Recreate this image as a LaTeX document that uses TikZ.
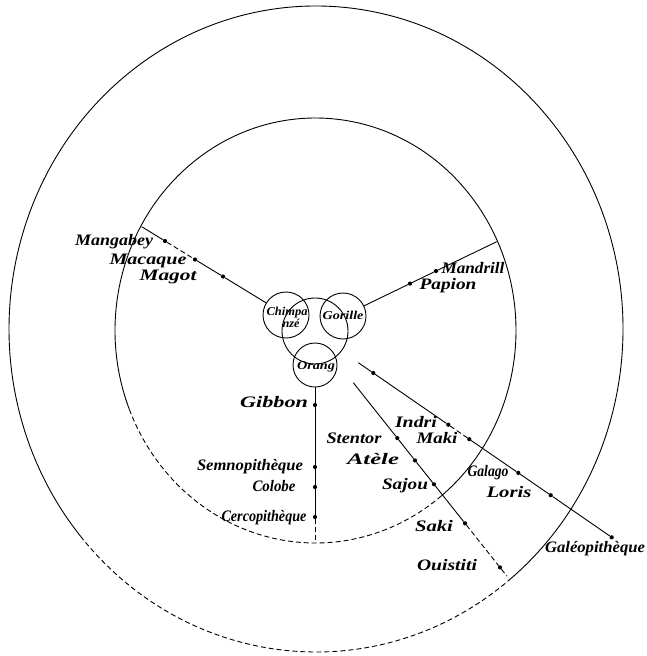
\documentclass[tikz,border=0pt]{standalone}
\usepackage{graphicx}
\usepackage{fontspec}
\setmainfont{Liberation Serif}
\usetikzlibrary{calc}
\tikzset{
  ln/.style={line width=0.9pt, black},
  dsh/.style={line width=0.9pt, black, dash pattern=on 5pt off 3pt},
  dotn/.style={circle, fill=black, inner sep=0pt, minimum size=4.2pt},
  ring/.style={circle, draw, line width=0.9pt, inner sep=0pt, minimum size=#1},
  lbl/.style={inner sep=0pt, font=\fontsize{16}{16}\selectfont\bfseries\itshape},
  clbl/.style={inner sep=0pt, font=\fontsize{12}{10}\selectfont\bfseries\itshape, align=center}
}
\newcommand{\fitw}[2]{\resizebox{#1pt}{\height}{#2}}
\begin{document}
\begin{tikzpicture}[x=1pt,y=-1pt]
\useasboundingbox (0,0) rectangle (646,656);
% centres of the two great circles
\coordinate (O) at (315.5,330.5);
\coordinate (P) at (316,329);
% inner circle
\draw[ln] (O) ++(308.9:200.5pt and 212.5pt) arc[start angle=308.9, end angle=561.8, x radius=200.5pt, y radius=212.5pt];
\draw[dsh] (O) ++(201.8:200.5pt and 212.5pt) arc[start angle=201.8, end angle=308.9, x radius=200.5pt, y radius=212.5pt];
% outer circle
\draw[ln] (P) ++(309:307pt and 323pt) arc[start angle=309, end angle=579.9, x radius=307pt, y radius=323pt];
\draw[dsh] (P) ++(219.9:307pt and 323pt) arc[start angle=219.9, end angle=309, x radius=307pt, y radius=323pt];

% central circles
\node[ring=66pt] (hom) at (315,331) {};
\node[ring=46pt] (chimp) at (286,315) {};
\node[ring=46pt] (gor) at (343,316) {};
\node[ring=44pt] (orang) at (315,365) {};
\node[clbl] (chimpt) at (287,317) {\fitw{41}{Chimpa}\\\hspace*{8pt}\fitw{17}{nzé}};
\node[clbl] (gort) at (343,315) {\fitw{41}{Gorille}};
\node[clbl] (orangt) at (316,367) {\fitw{38}{Orang}};

% upper-left branch
\coordinate (A1) at (141.7,226.7);
\node[dotn] (m1) at (165,241) {};
\node[dotn] (m2) at (195,259.5) {};
\node[dotn] (m3) at (223,276.5) {};
\draw[ln] (A1) -- (m1);
\draw[dsh] (m1) -- (m2);
\draw[ln] (m2) -- (m3) -- (chimp);

% upper-right branch
\coordinate (A2) at (496.7,241.7);
\node[dotn] (p1) at (436,271) {};
\node[dotn] (p2) at (410,283.6) {};
\draw[ln] (A2) -- (p1) -- (p2) -- (gor);

% vertical branch
\node[dotn] (v1) at (315,405) {};
\node[dotn] (v2) at (315,467) {};
\node[dotn] (v3) at (315,487) {};
\node[dotn] (v4) at (315,517) {};
\coordinate (B) at (315,543);
\draw[ln] (orang) -- (v1) -- (v2) -- (v3) -- (v4);
\draw[dsh] (v4) -- (B);

% Galeopitheque branch
\coordinate (G0) at (358.3,362.7);
\node[dotn] (g1) at (373.3,373) {};
\node[dotn] (g2) at (448.3,424.7) {};
\node[dotn] (g3) at (469.3,439.2) {};
\node[dotn] (g4) at (518.3,472.9) {};
\node[dotn] (g5) at (550.7,495.2) {};
\node[dotn] (g6) at (611.7,537.3) {};
\draw[ln] (G0) -- (g1) -- (g2);
\draw[dsh] (g2) -- (g3);
\draw[ln] (g3) -- (g4) -- (g5) -- (g6);

% Ouistiti branch
\coordinate (S0) at (353.3,382.7);
\node[dotn] (s1) at (397.3,438.1) {};
\node[dotn] (s2) at (415,460.4) {};
\node[dotn] (s3) at (434,484.3) {};
\node[dotn] (s4) at (465,523.3) {};
\node[dotn] (s5) at (500,567.4) {};
\coordinate (S6) at (507,576.2);
\draw[ln] (S0) -- (s1) -- (s2) -- (s3) -- (s4);
\draw[dsh] (s4) -- (s5) -- (S6);

% labels (anchored on their baselines)
\node[lbl, anchor=base] (mangabey) at (114,245) {\fitw{78}{Mangabey}};
\node[lbl, anchor=base] (macaque) at (148,264) {\fitw{77}{Macaque}};
\node[lbl, anchor=base] (magot) at (168,280) {\fitw{57}{Magot}};
\node[lbl, anchor=base] (mandrill) at (473,273) {\fitw{63}{Mandrill}};
\node[lbl, anchor=base] (papion) at (448,289) {\fitw{57}{Papion}};
\node[lbl, anchor=base] (gibbon) at (274,407) {\fitw{68}{Gibbon}};
\node[lbl, anchor=base] (semno) at (250,470) {\fitw{106}{Semnopithèque}};
\node[lbl, anchor=base] (colobe) at (274,491) {\fitw{43}{Colobe}};
\node[lbl, anchor=base] (cerco) at (264,521) {\fitw{85}{Cercopithèque}};
\node[lbl, anchor=base] (stentor) at (354,443) {\fitw{55}{Stentor}};
\node[lbl, anchor=base] (atele) at (373,464) {\fitw{52}{Atèle}};
\node[lbl, anchor=base] (sajou) at (405,489) {\fitw{46}{Sajou}};
\node[lbl, anchor=base] (saki) at (434,531) {\fitw{38}{Saki}};
\node[lbl, anchor=base] (ouistiti) at (447,570) {\fitw{60}{Ouistiti}};
\node[lbl, anchor=base] (indri) at (416,427) {\fitw{42}{Indri}};
\node[lbl, anchor=base] (maki) at (437,443) {\fitw{41}{Maki}};
\node[lbl, anchor=base] (galago) at (488,476) {\fitw{41}{Galago}};
\node[lbl, anchor=base] (loris) at (509,497) {\fitw{45}{Loris}};
\node[lbl, anchor=base] (galeo) at (595,552) {\fitw{100}{Galéopithèque}};
\end{tikzpicture}
\end{document}
